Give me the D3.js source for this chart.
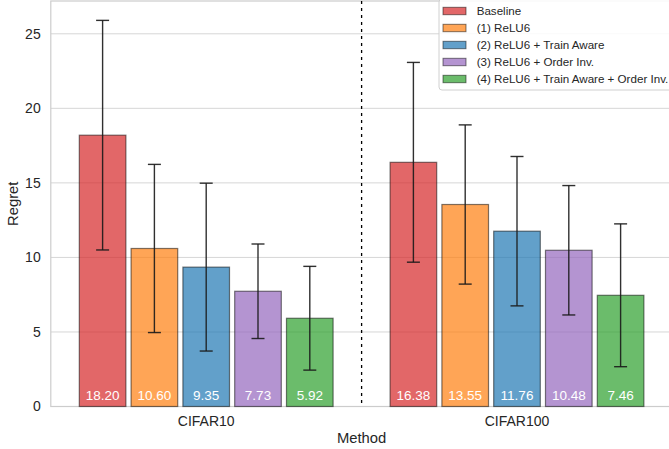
<!DOCTYPE html>
<html>
<head>
<meta charset="utf-8">
<script src="https://cdn.jsdelivr.net/npm/d3@7"></script>
<style>
  html, body { margin: 0; padding: 0; background: #fff; }
  svg { display: block; font-family: "Liberation Sans", Arial, sans-serif; }
</style>
</head>
<body>
<div id="chart"></div>
<script>
// data
const groups = ['CIFAR10', 'CIFAR100'];
const methods = ['Baseline', '(1) ReLU6', '(2) ReLU6 + Train Aware', '(3) ReLU6 + Order Inv.', '(4) ReLU6 + Train Aware + Order Inv.'];
const colors = ['#d62728', '#ff7f0e', '#1f77b4', '#9467bd', '#2ca02c'];
const meansCifar10 = [18.20, 10.60, 9.35, 7.73, 5.92];
const meansCifar100 = [16.38, 13.55, 11.76, 10.48, 7.46];
const stdCifar10 = [7.70, 5.64, 5.63, 3.17, 3.48];
const stdCifar100 = [6.70, 5.34, 5.01, 4.34, 4.79];
const yTicks = [0, 5, 10, 15, 20, 25];

const means = [meansCifar10, meansCifar100];
const stds = [stdCifar10, stdCifar100];

const bars = [];
groups.forEach((g, gi) => {
  methods.forEach((m, mi) => {
    bars.push({group: gi, method: mi, mean: means[gi][mi], std: stds[gi][mi]});
  });
});

const W = 669, H = 449;
const plot = {left: 50.8, right: 672.4, top: 1, bottom: 406.5};
const barStep = 1 / 6, barWidth = 0.15;

const svg = d3.select('#chart').append('svg')
    .attr('width', W)
    .attr('height', H);

const x = d3.scaleLinear().domain([-0.5, 1.5]).range([plot.left, plot.right]);
const y = d3.scaleLinear().domain([0, 27.2]).range([plot.bottom, plot.top]);

// grid
svg.append('g')
  .selectAll('line')
  .data(yTicks)
  .join('line')
    .attr('x1', plot.left).attr('x2', plot.right)
    .attr('y1', d => y(d)).attr('y2', d => y(d))
    .attr('stroke', '#d6d6d6')
    .attr('stroke-width', 1);

// spines
svg.append('rect')
    .attr('x', plot.left).attr('y', plot.top)
    .attr('width', plot.right - plot.left)
    .attr('height', plot.bottom - plot.top)
    .attr('fill', 'none')
    .attr('stroke', '#cccccc')
    .attr('stroke-width', 1.2);

// separator between datasets
svg.append('line')
    .attr('x1', x(0.5)).attr('x2', x(0.5))
    .attr('y1', plot.top).attr('y2', plot.bottom)
    .attr('stroke', '#000')
    .attr('stroke-width', 1.3)
    .attr('stroke-dasharray', '3,4');

const barX = d => d.group + (d.method - 2) * barStep;

// bars
svg.append('g')
  .selectAll('rect')
  .data(bars)
  .join('rect')
    .attr('x', d => x(barX(d) - barWidth / 2))
    .attr('y', d => y(d.mean))
    .attr('width', d => x(barWidth) - x(0))
    .attr('height', d => y(0) - y(d.mean))
    .attr('fill', d => colors[d.method])
    .attr('fill-opacity', 0.7)
    .attr('stroke', '#000')
    .attr('stroke-opacity', 0.5)
    .attr('stroke-width', 1.2);

// error bars
const err = svg.append('g')
    .attr('stroke', '#1a1a1a')
    .attr('stroke-opacity', 0.9)
    .attr('stroke-width', 1.4);
err.selectAll('.stem')
  .data(bars)
  .join('line')
    .attr('class', 'stem')
    .attr('x1', d => x(barX(d))).attr('x2', d => x(barX(d)))
    .attr('y1', d => y(d.mean - d.std)).attr('y2', d => y(d.mean + d.std));
['lo', 'hi'].forEach(k => {
  err.selectAll('.cap-' + k)
    .data(bars)
    .join('line')
      .attr('class', 'cap-' + k)
      .attr('x1', d => x(barX(d)) - 6.5).attr('x2', d => x(barX(d)) + 6.5)
      .attr('y1', d => y(k === 'lo' ? d.mean - d.std : d.mean + d.std))
      .attr('y2', d => y(k === 'lo' ? d.mean - d.std : d.mean + d.std));
});

// value labels inside bars
svg.append('g')
  .selectAll('text')
  .data(bars)
  .join('text')
    .attr('x', d => x(barX(d)))
    .attr('y', 399.5)
    .attr('text-anchor', 'middle')
    .attr('fill', '#fff')
    .attr('font-size', '13.5px')
    .text(d => d.mean.toFixed(2));

// y axis ticks
svg.append('g')
  .selectAll('text')
  .data(yTicks)
  .join('text')
    .attr('x', 40.7)
    .attr('y', d => y(d))
    .attr('dy', '0.35em')
    .attr('text-anchor', 'end')
    .attr('fill', '#262626')
    .attr('font-size', '14px')
    .text(d => d);

// x axis ticks
svg.append('g')
  .selectAll('text')
  .data(groups)
  .join('text')
    .attr('x', (d, i) => x(i))
    .attr('y', 425.7)
    .attr('text-anchor', 'middle')
    .attr('fill', '#262626')
    .attr('font-size', '14px')
    .text(d => d);

// axis titles
svg.append('text')
    .attr('x', x(0.5))
    .attr('y', 442.7)
    .attr('text-anchor', 'middle')
    .attr('fill', '#262626')
    .attr('font-size', '14.8px')
    .text('Method');

svg.append('text')
    .attr('transform', `translate(17.8,${(plot.top + plot.bottom) / 2}) rotate(-90)`)
    .attr('text-anchor', 'middle')
    .attr('fill', '#262626')
    .attr('font-size', '14.8px')
    .text('Regret');

// legend
const legend = svg.append('g').attr('class', 'legend');
legend.append('rect')
    .attr('x', 439).attr('y', -1)
    .attr('width', 245).attr('height', 91)
    .attr('rx', 3)
    .attr('fill', '#fff')
    .attr('fill-opacity', 0.85)
    .attr('stroke', '#d0d0d0')
    .attr('stroke-width', 1);

const items = legend.selectAll('.legend-item')
  .data(methods)
  .join('g')
    .attr('class', 'legend-item')
    .attr('transform', (d, i) => `translate(0,${11 + i * 17})`);
items.append('rect')
    .attr('x', 443).attr('y', -3.7)
    .attr('width', 23).attr('height', 7.4)
    .attr('fill', (d, i) => colors[i])
    .attr('fill-opacity', 0.7)
    .attr('stroke', '#000')
    .attr('stroke-opacity', 0.5)
    .attr('stroke-width', 1);
items.append('text')
    .attr('x', 476.7)
    .attr('dy', '0.36em')
    .attr('fill', '#262626')
    .attr('font-size', '11.6px')
    .text(d => d);
</script>
</body>
</html>
